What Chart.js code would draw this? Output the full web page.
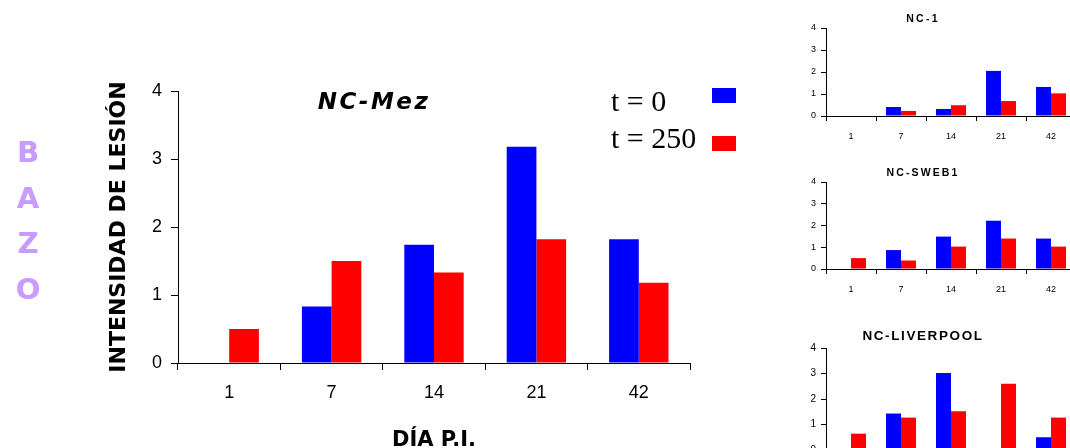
<!DOCTYPE html>
<html lang="es">
<head>
<meta charset="utf-8">
<title>Intensidad de lesión - bazo</title>
<script src="https://cdn.jsdelivr.net/npm/chart.js@4.4.1/dist/chart.umd.min.js"></script>
<style>
    html, body {
        margin: 0;
        padding: 0;
        width: 1070px;
        height: 448px;
        overflow: hidden;
        background: #fff;
    }
    .lienzo {
        position: absolute;
    }
    .bazo {
        position: absolute;
        left: 13px;
        top: 130px;
        width: 30px;
        text-align: center;
        font: bold 29px "DejaVu Sans", sans-serif;
        line-height: 45.5px;
        color: #c99bff;
    }
</style>
</head>
<body>
<div class="bazo">B<br>A<br>Z<br>O</div>
<canvas id="graficoMez" class="lienzo" width="780" height="448" style="left:0;top:0"></canvas>
<canvas id="graficoNC1" class="lienzo" width="306" height="150" style="left:770px;top:0"></canvas>
<canvas id="graficoSweb" class="lienzo" width="306" height="150" style="left:770px;top:150px"></canvas>
<canvas id="graficoLiver" class="lienzo" width="306" height="180" style="left:770px;top:300px"></canvas>
<script>
// días post infección
const dias = ['1', '7', '14', '21', '42'];
const etiquetasSerie = ['t = 0', 't = 250'];
const ticksIntensidad = [0, 1, 2, 3, 4];

// NC-Mez
const mezT0 = [0, 0.83, 1.74, 3.18, 1.82];
const mezT250 = [0.5, 1.5, 1.33, 1.82, 1.18];

// NC-1
const nc1T0 = [0, 0.41, 0.32, 2.05, 1.32];
const nc1T250 = [0, 0.23, 0.49, 0.68, 1.03];

// NC-SWEB1
const swebT0 = [0, 0.87, 1.49, 2.22, 1.40];
const swebT250 = [0.5, 0.39, 1.03, 1.40, 1.03];

// NC-LIVERPOOL
const liverT0 = [0, 1.43, 3.02, 0, 0.5];
const liverT250 = [0.64, 1.27, 1.52, 2.60, 1.27];

const AZUL = '#0000ff';
const ROJO = '#ff0000';
const ARIAL = '"Liberation Sans", Arial, sans-serif';
const COMIC = '"DejaVu Sans", sans-serif';

// textos libres sobre el lienzo (títulos dentro del gráfico y leyenda a mano)
const rotulos = {
    id: 'rotulos',
    afterDraw(chart, args, opts) {
        const ctx = chart.ctx;
        (opts.textos || []).forEach(t => {
            ctx.save();
            ctx.font = t.font;
            ctx.fillStyle = '#000';
            ctx.textAlign = 'center';
            ctx.textBaseline = 'middle';
            if ('letterSpacing' in ctx) ctx.letterSpacing = (t.espacio || 0) + 'px';
            ctx.fillText(t.texto, t.x, t.y);
            ctx.restore();
        });

        const ley = opts.leyenda;
        if (!ley) return;
        chart.data.datasets.forEach((ds, i) => {
            ctx.save();
            ctx.font = ley.font;
            ctx.fillStyle = '#000';
            ctx.textAlign = 'left';
            ctx.textBaseline = 'alphabetic';
            ctx.fillText(ds.label, ley.x, ley.lineas[i]);
            ctx.fillStyle = ds.backgroundColor;
            ctx.fillRect(ley.cajaX, ley.cajas[i], ley.ancho, ley.alto);
            ctx.restore();
        });
    }
};

function ejeX(fuente, tickLen, pad, alto, titulo) {
    return {
        type: 'category',
        offset: true,
        grid: {
            offset: true,
            drawOnChartArea: false,
            drawTicks: true,
            tickLength: tickLen,
            color: '#000'
        },
        border: { color: '#000', width: 1 },
        ticks: { color: '#000', font: fuente, padding: pad, maxRotation: 0 },
        title: titulo || { display: false },
        afterFit: s => { s.height = alto; }
    };
}

function ejeY(fuente, tickLen, pad, ancho, titulo) {
    return {
        min: 0,
        max: 4,
        afterBuildTicks: s => { s.ticks = ticksIntensidad.map(v => ({ value: v })); },
        grid: {
            drawOnChartArea: false,
            drawTicks: true,
            tickLength: tickLen,
            color: '#000'
        },
        border: { color: '#000', width: 1 },
        ticks: { color: '#000', font: fuente, padding: pad },
        title: titulo || { display: false },
        afterFit: s => { s.width = ancho; }
    };
}

function series(t0, t250, catPct) {
    return [
        { label: etiquetasSerie[0], data: t0, backgroundColor: AZUL,
          categoryPercentage: catPct, barPercentage: 1 },
        { label: etiquetasSerie[1], data: t250, backgroundColor: ROJO,
          categoryPercentage: catPct, barPercentage: 1 }
    ];
}

// gráfico principal NC-Mez
new Chart(document.getElementById('graficoMez'), {
    type: 'bar',
    data: { labels: dias, datasets: series(mezT0, mezT250, 0.58) },
    plugins: [rotulos],
    options: {
        responsive: false,
        animation: false,
        layout: { padding: { left: 98, right: 90, top: 91, bottom: 0 } },
        scales: {
            x: ejeX({ family: ARIAL, size: 18 }, 7, 12, 85, {
                display: true,
                text: 'DÍA P.I.',
                color: '#000',
                font: { family: COMIC, size: 21, weight: 'bold', lineHeight: 0.7 },
                padding: 0
            }),
            y: ejeY({ family: ARIAL, size: 18 }, 7, 9, 80, {
                display: true,
                text: 'INTENSIDAD DE LESIÓN',
                color: '#000',
                font: { family: COMIC, size: 22, weight: 'bold' },
                padding: { top: 8, bottom: 0 }
            })
        },
        plugins: {
            legend: { display: false },
            tooltip: { enabled: false },
            rotulos: {
                textos: [
                    { texto: 'NC-Mez', x: 374, y: 103, espacio: 2.5,
                      font: 'italic bold 23px ' + COMIC }
                ],
                leyenda: {
                    font: '30px "Liberation Serif", "Times New Roman", serif',
                    x: 611,
                    lineas: [111, 148],
                    cajaX: 712,
                    cajas: [88, 136],
                    ancho: 24,
                    alto: 15
                }
            }
        }
    }
});

// gráficos pequeños por aislado
function crearMini(id, titulo, t0, t250, cfg) {
    new Chart(document.getElementById(id), {
        type: 'bar',
        data: { labels: dias, datasets: series(t0, t250, 0.6) },
        plugins: [rotulos],
        options: {
            responsive: false,
            animation: false,
            layout: { padding: { left: 26, right: 0, top: cfg.arriba, bottom: 0 } },
            scales: {
                x: ejeX({ family: ARIAL, size: cfg.letra }, 5, cfg.padX, cfg.altoX),
                y: ejeY({ family: ARIAL, size: cfg.letra }, 5, 5, 30)
            },
            plugins: {
                legend: { display: false },
                tooltip: { enabled: false },
                rotulos: {
                    textos: [
                        { texto: titulo, x: 153, y: cfg.tituloY, espacio: cfg.espacio,
                          font: 'bold ' + cfg.letraTitulo + 'px ' + ARIAL }
                    ]
                }
            }
        }
    });
}

crearMini('graficoNC1', 'NC-1', nc1T0, nc1T250,
    { arriba: 28, altoX: 34, padX: 10, letra: 9, letraTitulo: 10.5, espacio: 2.3, tituloY: 19 });
crearMini('graficoSweb', 'NC-SWEB1', swebT0, swebT250,
    { arriba: 32, altoX: 31, padX: 10, letra: 9, letraTitulo: 10.5, espacio: 2.1, tituloY: 23 });
crearMini('graficoLiver', 'NC-LIVERPOOL', liverT0, liverT250,
    { arriba: 48, altoX: 30, padX: 10, letra: 10, letraTitulo: 13.5, espacio: 1.6, tituloY: 36 });
</script>
</body>
</html>
